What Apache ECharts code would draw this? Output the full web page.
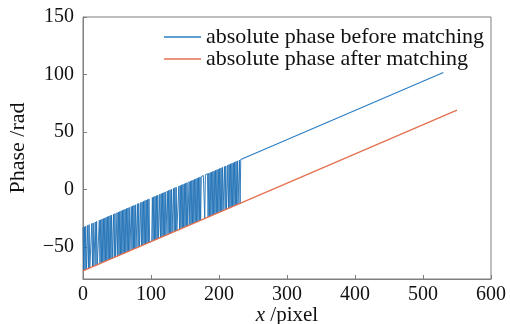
<!DOCTYPE html>
<html>
<head>
<meta charset="utf-8">
<script src="https://cdn.jsdelivr.net/npm/echarts@6/dist/echarts.min.js"></script>
<style>
  html, body { margin: 0; padding: 0; background: #fff; }
  #chart { width: 510px; height: 324px; }
</style>
</head>
<body>
<div id="chart"></div>
<script>
// wrapped phase read per pixel column, x = 0 .. 232
const beforeWrapped = [
  -33.0, -70.7, -32.5, -70.2, -32.0, -69.7, -69.5, -31.2, -69.0, -30.7,
  -68.5, -68.2, -68.0, -29.7, -67.4, -29.2, -66.9, -66.7, -28.4, -66.2,
  -27.9, -65.7, -65.4, -65.2, -26.9, -64.6, -26.4, -64.1, -25.9, -63.6,
  -25.4, -63.1, -24.9, -62.6, -24.3, -62.1, -23.8, -61.6, -23.3, -61.1,
  -22.8, -60.6, -22.3, -60.1, -59.8, -21.5, -59.3, -21.0, -58.8, -58.5,
  -20.3, -58.0, -19.8, -57.5, -19.3, -57.0, -18.7, -56.5, -18.2, -56.0,
  -17.7, -55.5, -17.2, -55.0, -16.7, -54.5, -16.2, -54.0, -15.7, -53.4,
  -53.2, -14.9, -52.7, -14.4, -52.2, -13.9, -51.7, -13.4, -51.1, -50.9,
  -12.6, -50.4, -12.1, -49.9, -49.6, -11.4, -49.1, -10.9, -48.6, -10.4,
  -48.1, -9.8, -47.6, -9.3, -47.1, -8.8, -46.6, -8.3, -46.1, -45.8,
  -45.6, -45.3, -7.0, -44.8, -6.5, -44.3, -6.0, -43.8, -5.5, -43.3,
  -5.0, -42.8, -42.5, -4.2, -42.0, -3.7, -41.5, -3.2, -41.0, -2.7,
  -40.5, -2.2, -40.0, -39.7, -1.4, -39.2, -0.9, -38.7, -0.4, -38.2,
  0.1, -37.7, -37.4, 0.8, -36.9, 1.4, -36.4, 1.9, -35.9, -35.6,
  -35.4, 2.9, -34.9, 3.4, -34.4, 3.9, -33.8, 4.4, -33.3, 4.9,
  -32.8, 5.4, -32.3, 5.9, -31.8, -31.6, 6.7, -31.0, 7.2, -30.5,
  7.7, -30.0, 8.2, -29.5, 8.7, -29.0, 9.2, -28.5, 9.8, -28.0,
  10.3, -27.5, 10.8, -27.0, 11.3, 11.5, 11.8, 12.0, 12.3, -25.4,
  12.8, 13.1, 13.3, 13.6, -24.2, 14.1, -23.7, 14.6, -23.2, 15.1,
  -22.6, 15.6, -22.1, 16.1, -21.6, 16.6, -21.1, 17.1, -20.6, 17.6,
  -20.1, 18.2, -19.6, 18.7, -19.1, 19.2, -18.6, -18.3, 19.9, -17.8,
  20.4, -17.3, -17.0, 21.2, -16.5, 21.7, -16.0, 22.2, -15.5, 22.7,
  -15.0, 23.2, -14.5, 23.8, -14.0, 24.3, -13.5, 24.8, -13.0, -12.7,
  25.5, -12.2, 26.0
]
// straight part of the curve before matching
const beforeTailX = [232, 530]
const beforeTailY = [26.0, 101.7]
// phase after matching
const afterX = [0, 550]
const afterY = [-71, 69]

const xTicks = [0, 100, 200, 300, 400, 500, 600]
const yTicks = [-50, 0, 50, 100, 150]

const seriesNames = ['absolute phase before matching', 'absolute phase after matching']
const colors = ['#2a7ec2', '#e3714f']

const wrappedData = beforeWrapped.map((v, i) => [i, v])
const tailData = beforeTailX.map((x, i) => [x, beforeTailY[i]])
const afterData = afterX.map((x, i) => [x, afterY[i]])

const font = "'Liberation Serif', 'DejaVu Serif', serif"
const axisGray = '#7f7f7f'
const txt = '#111'

const myChart = echarts.init(document.getElementById('chart'))
myChart.setOption({
  backgroundColor: '#fff',
  animation: false,
  textStyle: { fontFamily: font },
  grid: {
    left: 83,
    right: 19,
    top: 17,
    bottom: 45,
    show: true,
    borderColor: axisGray,
    borderWidth: 1,
    outerBoundsMode: 'none',
    containLabel: false,
  },
  legend: {
    orient: 'vertical',
    right: 26,
    top: 26,
    padding: 0,
    itemGap: 0,
    itemWidth: 37,
    itemHeight: 1.5,
    icon: 'rect',
    textStyle: {
      fontFamily: font,
      fontSize: 22,
      lineHeight: 21,
      color: txt,
    },
    data: seriesNames,
  },
  xAxis: {
    type: 'value',
    min: 0,
    max: 600,
    interval: 100,
    name: '{i|x} /pixel',
    nameLocation: 'middle',
    nameGap: 26,
    nameMoveOverlap: false,
    nameTextStyle: {
      fontFamily: font,
      fontSize: 21,
      color: txt,
      rich: {
        i: { fontFamily: font, fontSize: 21, fontStyle: 'italic', color: txt },
      },
    },
    axisLine: { show: true, onZero: false, lineStyle: { color: axisGray } },
    axisTick: { show: true, inside: true, length: 4, lineStyle: { color: axisGray }, customValues: xTicks },
    axisLabel: { margin: 6, fontFamily: font, fontSize: 20, color: txt, customValues: xTicks },
    splitLine: { show: false },
  },
  yAxis: {
    type: 'value',
    min: -78,
    max: 150,
    name: 'Phase /rad',
    nameLocation: 'middle',
    nameGap: 54,
    nameMoveOverlap: false,
    nameTextStyle: { fontFamily: font, fontSize: 22, color: txt },
    axisLine: { show: true, onZero: false, lineStyle: { color: axisGray } },
    axisTick: { show: true, inside: true, length: 4, lineStyle: { color: axisGray }, customValues: yTicks },
    axisLabel: {
      margin: 9,
      fontFamily: font,
      fontSize: 20,
      color: txt,
      customValues: yTicks,
      formatter: (v) => String(v).replace('-', '\u2212'),
    },
    splitLine: { show: false },
  },
  series: [
    {
      name: seriesNames[0],
      type: 'line',
      data: wrappedData,
      symbol: 'none',
      lineStyle: { color: '#1f70b6', width: 0.9 },
      itemStyle: { color: colors[0] },
    },
    {
      name: seriesNames[0],
      type: 'line',
      data: tailData,
      symbol: 'none',
      lineStyle: { color: colors[0], width: 1.2 },
      itemStyle: { color: colors[0] },
    },
    {
      name: seriesNames[1],
      type: 'line',
      data: afterData,
      symbol: 'none',
      lineStyle: { color: colors[1], width: 1.3 },
      itemStyle: { color: colors[1] },
    },
  ],
})
</script>
</body>
</html>
